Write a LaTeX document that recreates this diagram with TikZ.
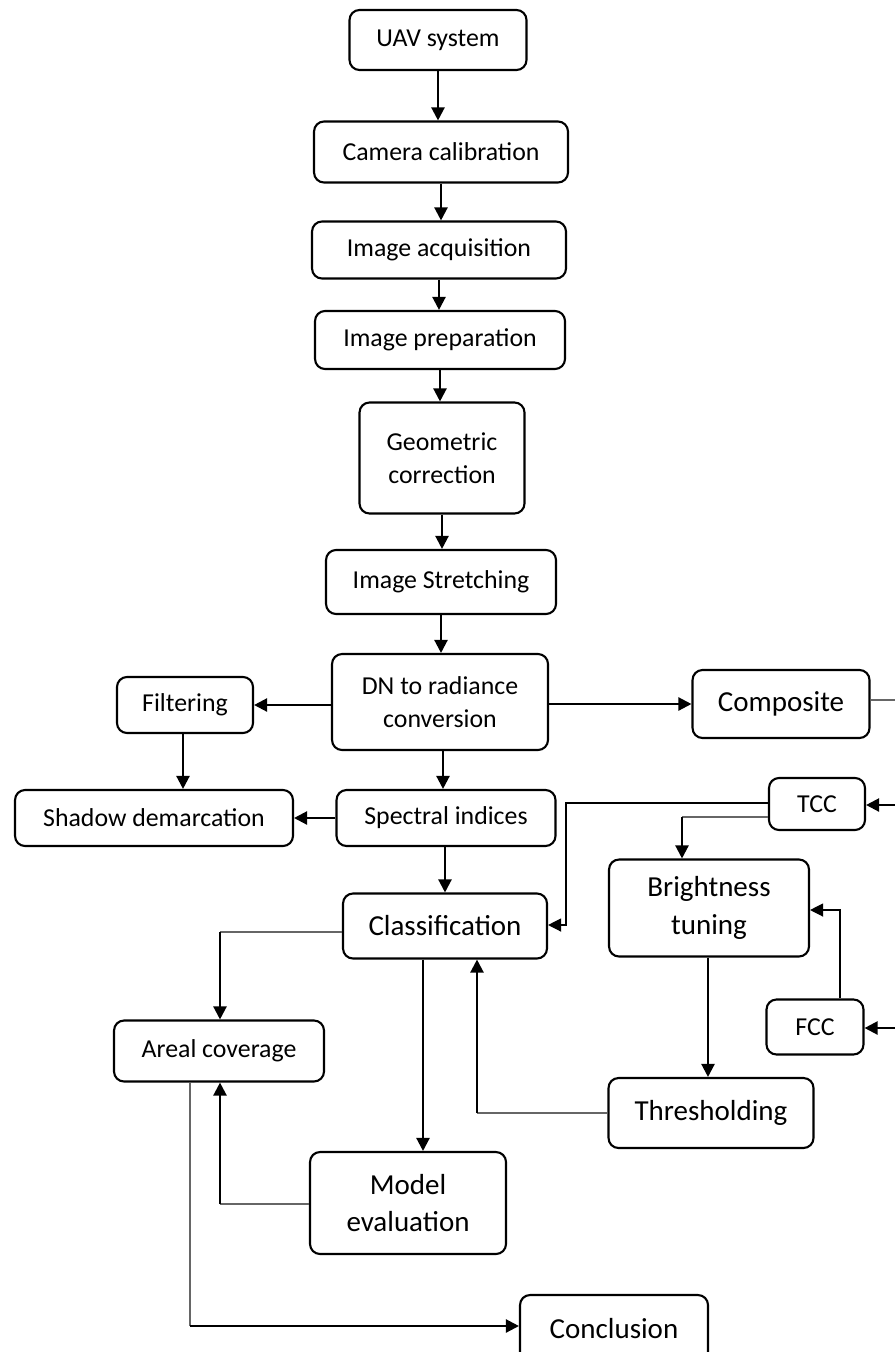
\documentclass[tikz,border=0pt]{standalone}
\usepackage{fontspec}
\setmainfont{Carlito}
\usetikzlibrary{arrows.meta}
\tikzset{
  box/.style={draw, line width=1.2pt, rounded corners=0.2cm, align=center, inner sep=0pt,
    font=\fontsize{14.7}{19}\selectfont},
  bigbox/.style={box, font=\fontsize{16.5}{21.3}\selectfont},
  arr/.style={line width=1.3pt, -{Triangle[length=7.5pt,width=7.5pt]}},
  thin/.style={line width=0.7pt, gray!80!black},
  thinarr/.style={thin, -{Triangle[length=7.5pt,width=7.5pt]}, black}
}
\begin{document}
\begin{tikzpicture}[x=0.02cm,y=-0.02cm]
\useasboundingbox (0,0) rectangle (895,1352);
% main column
\node[box, minimum width=3.54cm, minimum height=1.2cm] (uav) at (438,40) {UAV system};
\node[box, minimum width=5.08cm, minimum height=1.22cm] (camera) at (441,152) {Camera calibration};
\node[box, minimum width=5.08cm, minimum height=1.14cm] (acq) at (439,250) {Image acquisition};
\node[box, minimum width=5cm, minimum height=1.16cm] (prep) at (440,340) {Image preparation};
\node[box, minimum width=3.3cm, minimum height=2.22cm] (geo) at (442,458) {Geometric\\correction};
\node[box, minimum width=4.6cm, minimum height=1.28cm] (stretch) at (441,582) {Image Stretching};
\node[box, minimum width=4.32cm, minimum height=1.92cm] (dn) at (440,702) {DN to radiance\\conversion};
\node[box, minimum width=2.72cm, minimum height=1.12cm] (filter) at (185,705) {Filtering};
\node[bigbox, minimum width=3.54cm, minimum height=1.36cm] (comp) at (781,704) {Composite};
\node[box, minimum width=5.56cm, minimum height=1.12cm] (shadow) at (154,818) {Shadow demarcation};
\node[box, minimum width=4.38cm, minimum height=1.12cm] (spectral) at (446,818) {Spectral indices};
\node[box, minimum width=1.92cm, minimum height=1.04cm] (tcc) at (817,804) {TCC};
\node[bigbox, minimum width=4.08cm, minimum height=1.3cm] (classif) at (445,926) {Classification};
\node[bigbox, minimum width=4cm, minimum height=1.94cm] (bright) at (709,908) {Brightness\\tuning};
\node[box, minimum width=4.2cm, minimum height=1.22cm] (areal) at (219,1051) {Areal coverage};
\node[box, minimum width=1.94cm, minimum height=1.1cm] (fcc) at (815,1027) {FCC};
\node[bigbox, minimum width=4.1cm, minimum height=1.4cm] (thresh) at (711,1113) {Thresholding};
\node[bigbox, minimum width=3.92cm, minimum height=2.04cm] (model) at (408,1203) {Model\\evaluation};
\node[bigbox, minimum width=3.76cm, minimum height=1.36cm] (concl) at (614,1329) {Conclusion};
% free ends at the right border
\coordinate (eComp) at (895,700);
\coordinate (eTcc) at (895,805);
\coordinate (eFcc) at (895,1028);
% corners
\coordinate (cTcc) at (682,817);
\coordinate (cThr) at (477,1113);
\coordinate (cCls) at (220,932);
\coordinate (cMod) at (220,1204);
\coordinate (cAre) at (190,1326);
% arrows
\draw[arr] (uav.south) -- (uav.south |- camera.north);
\draw[arr] (camera.south) -- (camera.south |- acq.north);
\draw[arr] (acq.south) -- (acq.south |- prep.north);
\draw[arr] (prep.south) -- (prep.south |- geo.north);
\draw[arr] (geo.south) -- (geo.south |- stretch.north);
\draw[arr] (stretch.south) -- (stretch.south |- dn.north);
\draw[arr] (dn.west |- filter) -- (filter.east);
\draw[arr] (dn.east |- comp) -- (comp.west);
\draw[thin] (comp.east |- eComp) -- (eComp);
\draw[arr] ([xshift=-0.04cm]filter.south) -- ([xshift=-0.04cm]filter.south |- shadow.north);
\draw[arr] ([xshift=0.06cm]dn.south) -- ([xshift=0.06cm]dn.south |- spectral.north);
\draw[arr] (spectral.west) -- (shadow.east);
\draw[arr] (spectral.south -| classif) -- (classif.north);
\draw[arr] (eTcc) -- (tcc.east |- eTcc);
\draw[thinarr] (tcc.west |- 0,803) -| (566,925) -- (classif.east |- 0,925);
\draw[thin] (tcc.west |- cTcc) -- (cTcc);
\draw[arr] (cTcc) -- (cTcc |- bright.north);
\draw[thinarr] (fcc.north -| 840,0) |- (bright.east |- 0,910);
\draw[arr] (eFcc) -- (fcc.east |- eFcc);
\draw[arr] (bright.south -| 708,0) -- (thresh.north -| 708,0);
\draw[thin] (thresh.west) -- (cThr);
\draw[arr] (cThr) -- (cThr |- classif.south);
\draw[arr] (classif.south -| 423,0) -- (model.north -| 423,0);
\draw[thin] (classif.west |- cCls) -- (cCls);
\draw[arr] (cCls) -- (cCls |- areal.north);
\draw[thin] (model.west |- cMod) -- (cMod);
\draw[arr] (cMod) -- (cMod |- areal.south);
\draw[thin] (areal.south -| cAre) -- (cAre);
\draw[arr] (cAre) -- (concl.west |- cAre);
\end{tikzpicture}
\end{document}
